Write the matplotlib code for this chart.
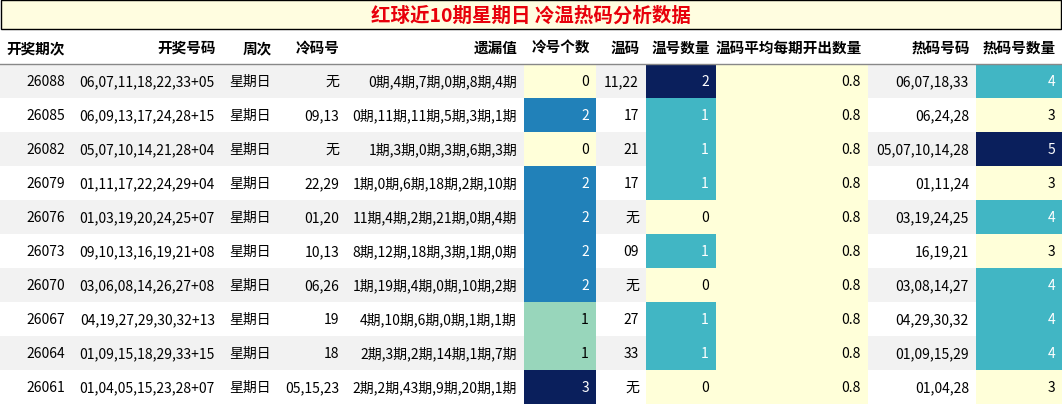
import matplotlib
matplotlib.use("Agg")
import matplotlib.pyplot as plt
from matplotlib.patches import Rectangle

plt.rcParams['font.family'] = ['Noto Sans CJK SC', 'DejaVu Sans']

title = "红球近10期星期日 冷温热码分析数据"
headers = ["开奖期次", "开奖号码", "周次", "冷码号", "遗漏值", "冷号个数", "温码", "温号数量", "温码平均每期开出数量", "热码号码", "热码号数量"]
issues = ["26088", "26085", "26082", "26079", "26076", "26073", "26070", "26067", "26064", "26061"]
numbers = ["06,07,11,18,22,33+05", "05,06,09,13,17,24,28+15", "05,07,10,14,21,28+04", "01,11,17,22,24,29+04",
           "01,03,19,20,24,25+07", "09,10,13,16,19,21+08", "03,06,08,14,26,27+08", "04,19,27,29,30,32+13",
           "01,09,15,18,29,33+15", "01,04,05,15,23,28+07"]
numbers[1] = "06,09,13,17,24,28+15"
weekday = ["星期日"] * 10
cold_nums = ["无", "09,13", "无", "22,29", "01,20", "10,13", "06,26", "19", "18", "05,15,23"]
misses = ["0期,4期,7期,0期,8期,4期", "0期,11期,11期,5期,3期,1期", "1期,3期,0期,3期,6期,3期", "1期,0期,6期,18期,2期,10期",
          "11期,4期,2期,21期,0期,4期", "8期,12期,18期,3期,1期,0期", "1期,19期,4期,0期,10期,2期", "4期,10期,6期,0期,1期,1期",
          "2期,3期,2期,14期,1期,7期", "2期,2期,43期,9期,20期,1期"]
cold_count = [0, 2, 0, 2, 2, 2, 2, 1, 1, 3]
warm_nums = ["11,22", "17", "21", "17", "无", "09", "无", "27", "33", "无"]
warm_count = [2, 1, 1, 1, 0, 1, 0, 1, 1, 0]
warm_avg = [0.8] * 10
hot_nums = ["06,07,18,33", "06,24,28", "05,07,10,14,28", "01,11,24", "03,19,24,25", "16,19,21", "03,08,14,27",
            "04,29,30,32", "01,09,15,29", "01,04,28"]
hot_count = [4, 3, 5, 3, 4, 3, 4, 4, 4, 3]

W, H = 1062, 406
fig = plt.figure(figsize=(W/100, H/100), dpi=100)
ax = fig.add_axes([0, 0, 1, 1])
ax.set_xlim(0, W); ax.set_ylim(H, 0); ax.axis('off')

edges = [0, 72, 222, 278, 346, 524, 596, 646, 716, 868, 976, 1062]
ax.add_patch(Rectangle((1, 1), W-2, 29, facecolor='#fffde0', edgecolor='black', lw=1))
ax.text(W/2, 16, title, color='#e8000b', fontsize=14, fontweight='bold', ha='center', va='center')

hy0, rh = 31, 34
for i, h in enumerate(headers):
    ax.text(edges[i+1]-6 if i else edges[0]+6, hy0+17, h, ha='right' if i else 'left', va='center', fontsize=10.5, fontweight='bold')
ax.plot([0, W], [65, 65], color='#888888', lw=1)

Y, G, B, N, L = '#ffffd9', '#98d6bb', '#2181b9', '#0a1f5c', '#41b6c4'
def col_cold(v): return {0: Y, 1: G, 2: B, 3: N}[v]
def col_warm(v): return {0: Y, 1: L, 2: N}[v]
def col_hot(v): return {3: Y, 4: L, 5: N}[v]

for r in range(10):
    y = 65 + r*rh
    base = '#f2f2f2' if r % 2 == 0 else 'white'
    ax.add_patch(Rectangle((0, y), W, rh, facecolor=base, edgecolor='none'))
    vals = [issues[r], numbers[r], weekday[r], cold_nums[r], misses[r], str(cold_count[r]), warm_nums[r],
            str(warm_count[r]), str(warm_avg[r]), hot_nums[r], str(hot_count[r])]
    fills = {5: col_cold(cold_count[r]), 7: col_warm(warm_count[r]), 8: Y, 10: col_hot(hot_count[r])}
    for c, v in enumerate(vals):
        fc = fills.get(c)
        tc = 'black'
        if fc:
            ax.add_patch(Rectangle((edges[c], y), edges[c+1]-edges[c], rh, facecolor=fc, edgecolor='none'))
            if fc in (B, N, L):
                tc = 'white'
        ax.text(edges[c+1]-7, y+rh/2, v, ha='right', va='center', fontsize=10, color=tc)

fig.savefig('out.png', dpi=100)
